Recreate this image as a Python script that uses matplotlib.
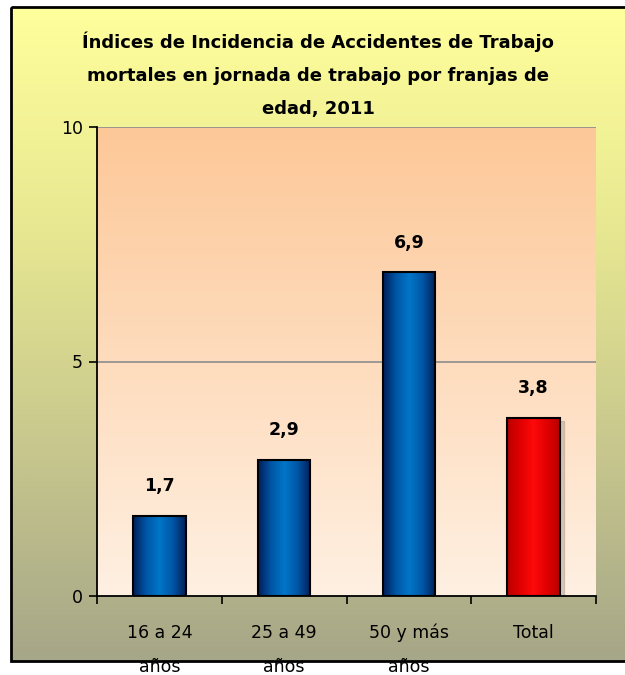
import numpy as np
import matplotlib
matplotlib.use("Agg")
import matplotlib.pyplot as plt
from matplotlib.colors import LinearSegmentedColormap
from matplotlib.patches import Rectangle

# data
categories = ["16 a 24\naños", "25 a 49\naños", "50 y más\naños", "Total"]
values = [1.7, 2.9, 6.9, 3.8]
is_total = [False, False, False, True]
title = ("Índices de Incidencia de Accidentes de Trabajo\n"
         "mortales en jornada de trabajo por franjas de\n"
         "edad, 2011")
yticks = [0, 5, 10]

W, H = 625, 675
fig = plt.figure(figsize=(W / 100, H / 100), dpi=100)
fig.patch.set_facecolor("white")

# chart area background (vertical gradient yellow -> olive) inside a frame
bg = fig.add_axes([0, 0, 1, 1], zorder=0)
bg.axis("off")
bg_cmap = LinearSegmentedColormap.from_list(
    "bg", ["#ffff9c", "#e8e892", "#c8c88e", "#a6a688"])
grad = np.linspace(0, 1, 256).reshape(-1, 1)
bg.imshow(grad, cmap=bg_cmap, extent=(11, W + 5, 661, 7), aspect="auto",
          interpolation="bicubic")
bg.add_patch(Rectangle((11, 7), W, 654, fill=False, edgecolor="black",
                       linewidth=2))
bg.set_xlim(0, W)
bg.set_ylim(H, 0)

fig.text(0.509, 0.889, title, ha="center", va="center", fontsize=13,
         fontweight="bold", linespacing=2.05, color="black")

ax = fig.add_axes([97 / W, 1 - 596 / H, 499 / W, 469 / H], zorder=1)
ax.set_facecolor("none")
x = np.arange(len(categories))
bar_w = 0.42

# plot area gradient
pa_cmap = LinearSegmentedColormap.from_list("pa", ["#fff0e2", "#fdc898"])
ax.imshow(grad, cmap=pa_cmap, origin="lower", extent=(-0.5, 3.5, 0, 10),
          aspect="auto", zorder=0, interpolation="bicubic")

for yv in yticks[1:]:
    ax.axhline(yv, color="#8c8c8c", linewidth=1.2, zorder=1)

blue_cmap = LinearSegmentedColormap.from_list(
    "blue", ["#001e58", "#0056a6", "#0076c8", "#0056a6", "#001e58"])
red_cmap = LinearSegmentedColormap.from_list(
    "red", ["#b80000", "#e00000", "#ff0a0a", "#e00000", "#b80000"])
hgrad = np.linspace(0, 1, 256).reshape(1, -1)

bars = ax.bar(x, values, width=bar_w, color="none", edgecolor="black",
              linewidth=1.5, zorder=3)
for b, v, tot in zip(bars, values, is_total):
    x0 = b.get_x()
    if tot:
        ax.add_patch(Rectangle((x0 + 0.03, 0), bar_w, v - 0.06,
                               color="#b0a090", alpha=0.5, zorder=1.5))
    ax.imshow(hgrad, cmap=red_cmap if tot else blue_cmap,
              extent=(x0, x0 + bar_w, 0, v), aspect="auto", zorder=2,
              interpolation="bicubic")
    ax.annotate(f"{v:.1f}".replace(".", ","), (x0 + bar_w / 2, v),
                xytext=(0, 15), textcoords="offset points", ha="center",
                va="bottom", fontsize=12.5, fontweight="bold")

ax.set_xlim(-0.5, len(categories) - 0.5)
ax.set_ylim(0, 10)

for s in ["top", "right"]:
    ax.spines[s].set_visible(False)
for s in ["left", "bottom"]:
    ax.spines[s].set_linewidth(1.3)
    ax.spines[s].set_zorder(4)

ax.set_yticks(yticks)
ax.tick_params(axis="y", direction="out", length=6, width=1.2,
               labelsize=12.5, pad=4)
ax.set_xticks(x)
ax.set_xticklabels(categories, fontsize=12.5, linespacing=2.15)
ax.tick_params(axis="x", which="major", length=0, pad=20)
ax.set_xticks(np.arange(-0.5, len(categories)), minor=True)
ax.tick_params(axis="x", which="minor", direction="out", length=6, width=1.2)

fig.savefig("out.png", dpi=100)
